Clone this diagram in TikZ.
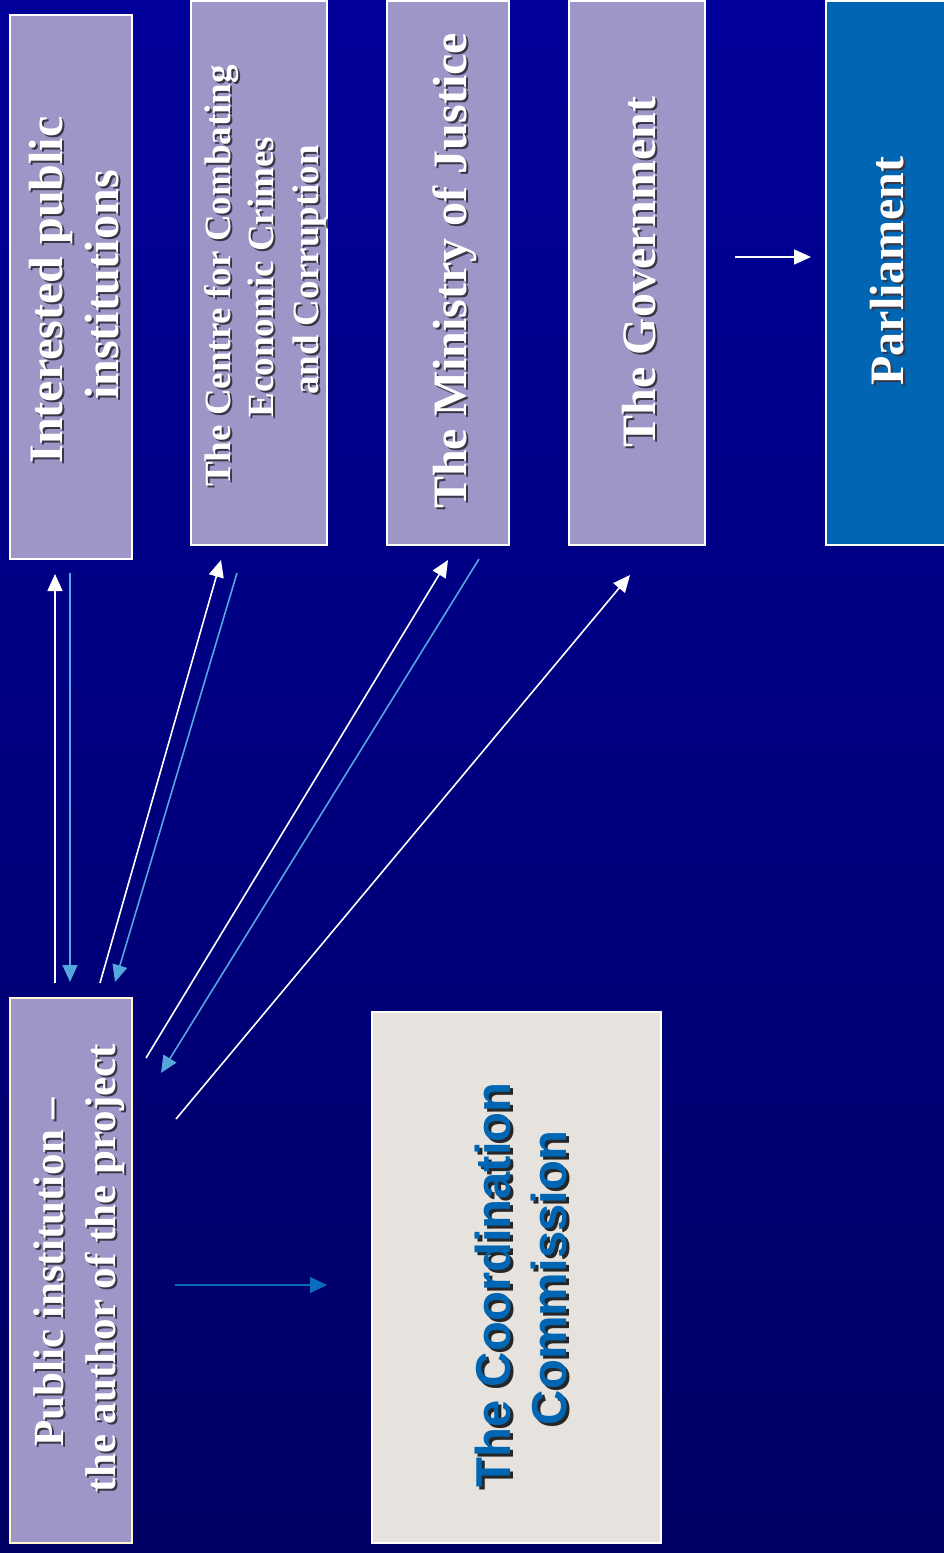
\documentclass[tikz,border=0pt]{standalone}
\usepackage{fontspec}
\setmainfont{Liberation Serif}
\newfontfamily\comfont{Liberation Sans}
\usetikzlibrary{arrows.meta}
\definecolor{bgtop}{RGB}{0,0,153}
\definecolor{bgbot}{RGB}{0,0,100}
\definecolor{lav}{RGB}{157,151,200}
\definecolor{parl}{RGB}{0,102,179}
\definecolor{comfill}{RGB}{230,227,223}
\definecolor{lblue}{RGB}{84,166,220}
\definecolor{cblue}{RGB}{10,108,190}
\definecolor{cream}{RGB}{255,245,210}
\definecolor{txshade}{RGB}{55,55,70}
\definecolor{comtext}{RGB}{0,102,179}
\newcommand\mylbl[5]{%
  \node[#4, text=txshade, anchor=base] (#1s) at ({#2+2},{#3+2}) {#5};
  \node[#4, anchor=base] (#1) at (#2,#3) {#5};}
\begin{document}
\begin{tikzpicture}[x=1pt,y=-1pt,
  lbox/.style={draw=white, line width=1.5pt, fill=lav, inner sep=0},
  ltext/.style={rotate=90, text=white, inner sep=0, font=\bfseries\fontsize{48}{56}\selectfont},
  stext/.style={rotate=90, text=white, inner sep=0, font=\bfseries\fontsize{37}{44}\selectfont},
  ptext/.style={rotate=90, text=white, inner sep=0, font=\bfseries\fontsize{43}{52}\selectfont},
  ctext/.style={rotate=90, text=comtext, inner sep=0, font=\comfont\bfseries\fontsize{49}{56}\selectfont},
  warrow/.style={draw=white, line width=1.6pt, -{Triangle[length=17pt,width=15pt]}},
  barrow/.style={draw=lblue, line width=1.6pt, -{Triangle[length=17pt,width=15pt]}},
  carrow/.style={draw=cblue, line width=1.6pt, -{Triangle[length=17pt,width=16pt]}}
]
\useasboundingbox (0,0) rectangle (944,1553);
\clip (0,0) rectangle (944,1553);
\shade[top color=bgtop, bottom color=bgbot] (0,0) rectangle (944,1553);

% boxes
\node[lbox, minimum width=122, minimum height=544] (int) at (71,287) {};
\node[lbox, minimum width=136, minimum height=544] (ctr) at (259,273) {};
\node[lbox, minimum width=122, minimum height=544] (min) at (448,273) {};
\node[lbox, minimum width=136, minimum height=544] (gov) at (637,273) {};
\node[lbox, fill=parl, minimum width=124, minimum height=544] (parl) at (888,273) {};
\node[lbox, draw=cream, minimum width=122, minimum height=545] (pub) at (71,1270.5) {};
\node[lbox, fill=comfill, minimum width=289, minimum height=531] (com) at (516.5,1277.5) {};

% labels
\mylbl{int1}{62}{290}{ltext}{Interested public}
\mylbl{int2}{118}{285}{ltext}{institutions}
\mylbl{ctr1}{230}{276}{stext}{The Centre for Combating}
\mylbl{ctr2}{273}{277}{stext}{Economic Crimes}
\mylbl{ctr3}{318}{270}{stext}{and Corruption}
\mylbl{minl}{466}{271}{ltext}{The Ministry of Justice}
\mylbl{govl}{655}{272}{ltext}{The Government}
\mylbl{parll}{903}{271}{ltext}{Parliament}
\mylbl{pub1}{63}{1272}{ptext}{Public institution –}
\mylbl{pub2}{115}{1268}{ptext}{the author of the project}
\node[ctext, text=black!85, anchor=base] (com1s) at (513,1288) {The Coordination};
\node[ctext, anchor=base] (com1) at (510,1285) {The Coordination};
\node[ctext, text=black!85, anchor=base] (com2s) at (569,1281) {Commission};
\node[ctext, anchor=base] (com2) at (566,1278) {Commission};

% arrow end points
\coordinate (a1s) at (55,983);  \coordinate (a1e) at (55,574);
\coordinate (a2s) at (70,573);  \coordinate (a2e) at (70,982);
\coordinate (a3s) at (100,983); \coordinate (a3e) at (221,560);
\coordinate (a4s) at (237,573); \coordinate (a4e) at (115,982);
\coordinate (a5s) at (146,1058); \coordinate (a5e) at (448,560);
\coordinate (a6s) at (479,559); \coordinate (a6e) at (161,1073);
\coordinate (a7s) at (176,1119); \coordinate (a7e) at (630,575);
\coordinate (a8s) at (735,257); \coordinate (a8e) at (811,257);
\coordinate (a9s) at (175,1285); \coordinate (a9e) at (327,1285);

\draw[warrow] (a1s) -- (a1e);
\draw[barrow] (a2s) -- (a2e);
\draw[warrow] (a3s) -- (a3e);
\draw[barrow] (a4s) -- (a4e);
\draw[warrow] (a5s) -- (a5e);
\draw[barrow] (a6s) -- (a6e);
\draw[warrow] (a7s) -- (a7e);
\draw[warrow] (a8s) -- (a8e);
\draw[carrow] (a9s) -- (a9e);
\end{tikzpicture}
\end{document}
